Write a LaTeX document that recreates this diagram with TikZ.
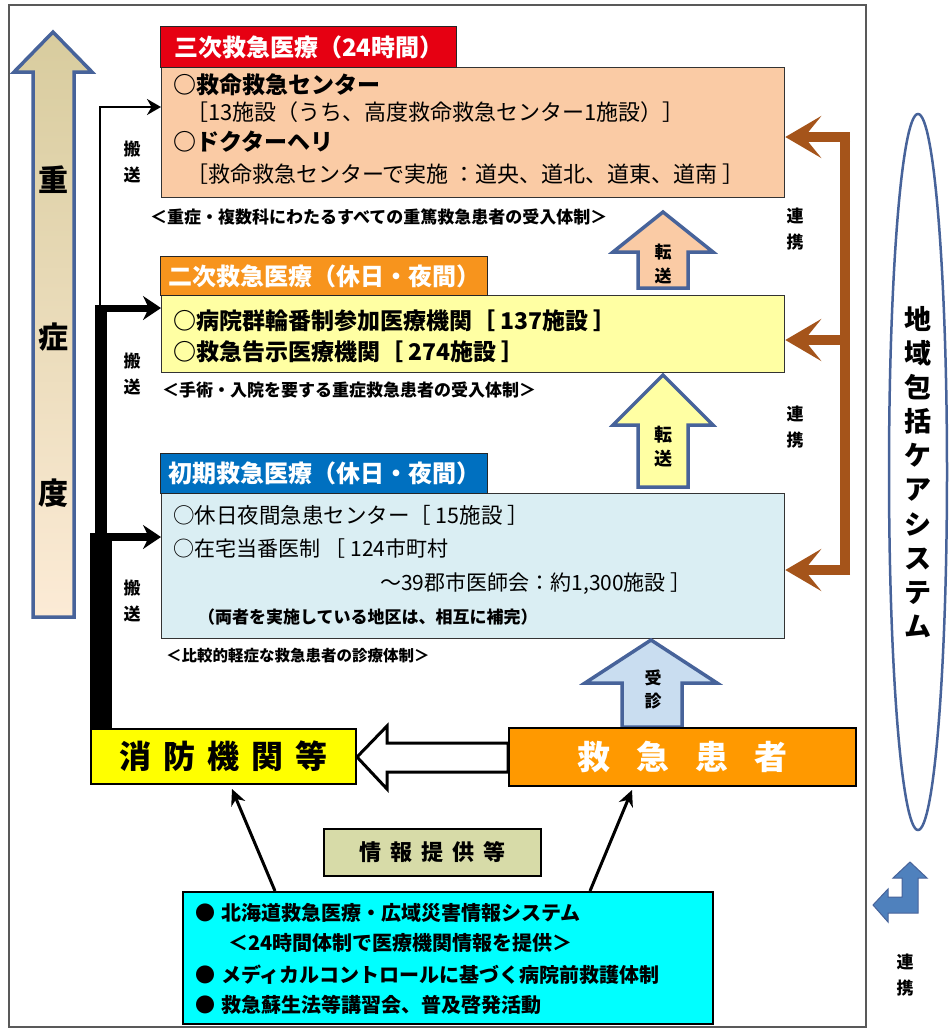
\documentclass[tikz,border=0pt]{standalone}
\usepackage{fontspec}
\setmainfont{Noto Sans CJK JP}
\usetikzlibrary{arrows.meta,shapes.geometric}
\definecolor{sanjired}{HTML}{E60012}
\definecolor{peach}{HTML}{FACBA5}
\definecolor{nijiorange}{HTML}{F7941D}
\definecolor{paleyellow}{HTML}{FFFFA3}
\definecolor{shokiblue}{HTML}{0070C0}
\definecolor{paleblue}{HTML}{DAEEF3}
\definecolor{visitblue}{HTML}{C9DDF0}
\definecolor{patorange}{HTML}{FF9900}
\definecolor{fireyellow}{HTML}{FFFF00}
\definecolor{infokhaki}{HTML}{D7DBA8}
\definecolor{infocyan}{HTML}{00FFFF}
\definecolor{linkbrown}{HTML}{A5541A}
\definecolor{edgeblue}{HTML}{47639A}
\definecolor{icnblue}{HTML}{4F81BD}
\definecolor{sevtop}{HTML}{D8CC9E}
\definecolor{sevbot}{HTML}{FCEBD6}

\begin{document}
\begin{tikzpicture}[x=1pt,y=-1pt,line join=miter,
  hdr/.style={draw=black!85,line width=1.3pt,anchor=north west,inner sep=0pt,text=white,font=\bfseries\fontsize{24}{24}\selectfont},
  panel/.style={draw=black!80,line width=1.3pt,anchor=north west,inner sep=0pt},
  txt/.style={anchor=west,inner sep=0pt,font=\fontsize{21}{21}\selectfont},
  btxt/.style={anchor=west,inner sep=0pt,font=\bfseries\fontsize{23}{23}\selectfont},
  captxt/.style={anchor=west,inner sep=0pt,font=\bfseries\fontsize{17}{17}\selectfont},
  itxt/.style={anchor=west,inner sep=0pt,font=\bfseries\fontsize{20}{20}\selectfont},
  vlab/.style={align=center,inner sep=0pt,font=\bfseries\fontsize{17}{26}\selectfont},
  blockarr/.style={draw=edgeblue,line width=3.5pt},
  link/.style={draw=linkbrown,line width=10pt},
  linkhead/.style={-{Stealth[length=36pt,width=42pt,inset=17pt]}},
  carryhead/.style={-{Stealth[length=18pt,width=24pt]}}]
  \useasboundingbox (0,0) rectangle (950,1031);

  % frame
  \draw[gray!70!black,line width=1.2pt] (9,5) rectangle (866,1027);

  % severity arrow
  \draw[blockarr,top color=sevtop,bottom color=sevbot] (53,32) -- (92,72) -- (74,72) -- (74,617) -- (33,617) -- (33,72) -- (14,72) -- cycle;
  \foreach \c/\y/\n in {重/180/1,症/337/2,度/493/3}
    \node[inner sep=0pt,font=\bfseries\fontsize{30}{30}\selectfont] (sev\n) at (53,\y) {\c};

  % tertiary
  \node[panel,fill=peach,minimum width=623pt,minimum height=130pt] (sanji) at (161,67) {};
  \node[hdr,fill=sanjired,minimum width=296pt,minimum height=41pt] (sanjiHd) at (160,26) {三次救急医療（24時間）};
  \node[btxt] (s1) at (173,85) {○救命救急センター};
  \node[txt,font=\fontsize{22}{22}\selectfont] (s2) at (186,112) {［13施設（うち、高度救命救急センター1施設）］};
  \node[btxt] (s3) at (173,142) {○ドクターヘリ};
  \node[txt,font=\fontsize{22}{22}\selectfont] (s4) at (186,174) {［救命救急センターで実施 ：道央、道北、道東、道南 ］};
  \node[captxt] (sc) at (150,217) {＜重症・複数科にわたるすべての重篤救急患者の受入体制＞};

  % secondary
  \node[panel,fill=paleyellow,minimum width=623pt,minimum height=77pt] (niji) at (161,295) {};
  \node[hdr,fill=nijiorange,minimum width=327pt,minimum height=39pt] (nijiHd) at (160,256) {二次救急医療（休日・夜間）};
  \node[btxt] (n1) at (173,321) {○病院群輪番制参加医療機関［ 137施設 ］};
  \node[btxt] (n2) at (173,352) {○救急告示医療機関［ 274施設 ］};
  \node[captxt] (nc) at (162,390) {＜手術・入院を要する重症救急患者の受入体制＞};

  % initial
  \node[panel,fill=paleblue,minimum width=623pt,minimum height=145pt] (shoki) at (161,493) {};
  \node[hdr,fill=shokiblue,minimum width=327pt,minimum height=40pt] (shokiHd) at (160,453) {初期救急医療（休日・夜間）};
  \node[txt,font=\fontsize{21.5}{21.5}\selectfont] (k1) at (173,515) {○休日夜間急患センター［ 15施設 ］};
  \node[txt] (k2) at (173,549) {○在宅当番医制 ［ 124市町村};
  \node[txt] (k3) at (380,584) {～39郡市医師会：約1,300施設 ］};
  \node[captxt] (k4) at (198,617) {（両者を実施している地区は、相互に補完）};
  \node[captxt,font=\bfseries\fontsize{15.5}{15.5}\selectfont] (kc) at (166,656) {＜比較的軽症な救急患者の診療体制＞};

  % transfer arrows
  \draw[blockarr,fill=peach] (663,212) -- (713,252) -- (688,252) -- (688,288) -- (638,288) -- (638,252) -- (613,252) -- cycle;
  \node[vlab,font=\bfseries\fontsize{17}{24}\selectfont] (ten1) at (663,264) {転\\送};
  \draw[blockarr,fill=paleyellow] (663,375) -- (713,425) -- (688,425) -- (688,487) -- (638,487) -- (638,425) -- (613,425) -- cycle;
  \node[vlab,font=\bfseries\fontsize{18}{24}\selectfont] (ten2) at (663,447) {転\\送};
  \draw[blockarr,fill=visitblue] (651,640) -- (717,683) -- (682,683) -- (682,727) -- (622,727) -- (622,683) -- (585,683) -- cycle;
  \node[vlab,font=\bfseries\fontsize{17}{23}\selectfont] (jushin) at (653,689) {受\\診};

  % fire dept and patient
  \node[draw=black,line width=2pt,fill=fireyellow,anchor=north west,minimum width=265pt,minimum height=55pt,inner sep=0pt,
        font=\bfseries\fontsize{32}{32}\selectfont] (shobo) at (90,728) {消\hspace{12pt}防\hspace{12pt}機\hspace{12pt}関\hspace{12pt}等};
  \node[draw=black,line width=2pt,fill=patorange,anchor=north west,minimum width=347pt,minimum height=58pt,inner sep=0pt,text=white,
        font=\bfseries\fontsize{33}{33}\selectfont] (kyukan) at (508,727) {救\hspace{26pt}急\hspace{26pt}患\hspace{26pt}者};
  \draw[line width=3pt,fill=white] (357,757) -- (387,726) -- (387,743) -- (508,743) -- (508,772) -- (387,772) -- (387,789) -- cycle;

  % transport lines
  \coordinate (thinTurn) at (100,107);
  \coordinate (thinFoot) at (100,310);
  \coordinate (busNiji) at (101,308);
  \coordinate (busShoki) at (101,537);
  \draw[line width=2pt,-{Stealth[length=14pt,width=16pt]}] (thinFoot) -- (thinTurn) -- (sanji.west |- thinTurn);
  \draw[line width=12pt] (busNiji |- shobo.north) -- ([yshift=3.5pt]busNiji);
  \draw[line width=7pt,carryhead] ([xshift=-6pt]busNiji) -- (niji.west |- busNiji);
  \draw[line width=22pt] (busShoki |- shobo.north) -- ([yshift=4pt]busShoki);
  \draw[line width=8pt,carryhead] ([xshift=-11pt]busShoki) -- (shoki.west |- busShoki);
  \node[vlab] (h1) at (132,162) {搬\\送};
  \node[vlab] (h2) at (132,374) {搬\\送};
  \node[vlab] (h3) at (132,601) {搬\\送};

  % information
  \node[draw=black,line width=1.5pt,fill=infokhaki,anchor=north west,minimum width=217pt,minimum height=47pt,inner sep=0pt,
        font=\bfseries\fontsize{22}{22}\selectfont] (infolab) at (323,828) {情\hspace{9pt}報\hspace{9pt}提\hspace{9pt}供\hspace{9pt}等};
  \node[draw=black,line width=1.5pt,fill=infocyan,anchor=north west,minimum width=530pt,minimum height=132pt,inner sep=0pt] (infobox) at (182,891) {};
  \node[itxt] (i1) at (195,913) {●\hspace{6pt}北海道救急医療・広域災害情報システム};
  \node[itxt] (i2) at (228,943) {＜24時間体制で医療機関情報を提供＞};
  \node[itxt] (i3) at (195,975) {●\hspace{6pt}メディカルコントロールに基づく病院前救護体制};
  \node[itxt] (i4) at (195,1005) {●\hspace{6pt}救急蘇生法等講習会、普及啓発活動};
  \draw[line width=3pt,-{Stealth[length=16pt,width=15pt]}] ([xshift=93pt]infobox.north west) -- ([xshift=142pt,yshift=-4pt]shobo.south west);
  \draw[line width=3pt,-{Stealth[length=16pt,width=15pt]}] ([xshift=408pt]infobox.north west) -- ([xshift=124pt,yshift=-3pt]kyukan.south west);

  % links to community care
  \coordinate (linkTop) at (845,137);
  \coordinate (linkMid) at (845,340);
  \coordinate (linkBot) at (845,570);
  \draw[link] ([yshift=5pt]linkTop) -- ([yshift=-5pt]linkBot);
  \draw[link,linkhead] ([xshift=5pt]linkTop) -- (sanji.east |- linkTop);
  \draw[link,linkhead] (linkMid) -- (niji.east |- linkMid);
  \draw[link,linkhead] ([xshift=5pt]linkBot) -- (shoki.east |- linkBot);
  \node[vlab] (r1) at (795,229) {連\\携};
  \node[vlab] (r2) at (795,427) {連\\携};

  \node[draw=edgeblue,line width=2.5pt,ellipse,minimum width=58pt,minimum height=716pt,inner sep=0pt,align=center,
        font=\bfseries\fontsize{27}{34.1}\selectfont] (care) at (918,472) {地\\域\\包\\括\\ケ\\ア\\シ\\ス\\テ\\ム};

  % bent link icon
  \draw[fill=icnblue,draw=edgeblue,line width=1pt] (910,862) -- (927,878) -- (918,878) -- (918,913) -- (888,913) -- (888,922)
    -- (873,905) -- (888,889) -- (888,897) -- (902,897) -- (902,878) -- (893,878) -- cycle;
  \node[vlab] (r3) at (905,975) {連\\携};
\end{tikzpicture}
\end{document}
